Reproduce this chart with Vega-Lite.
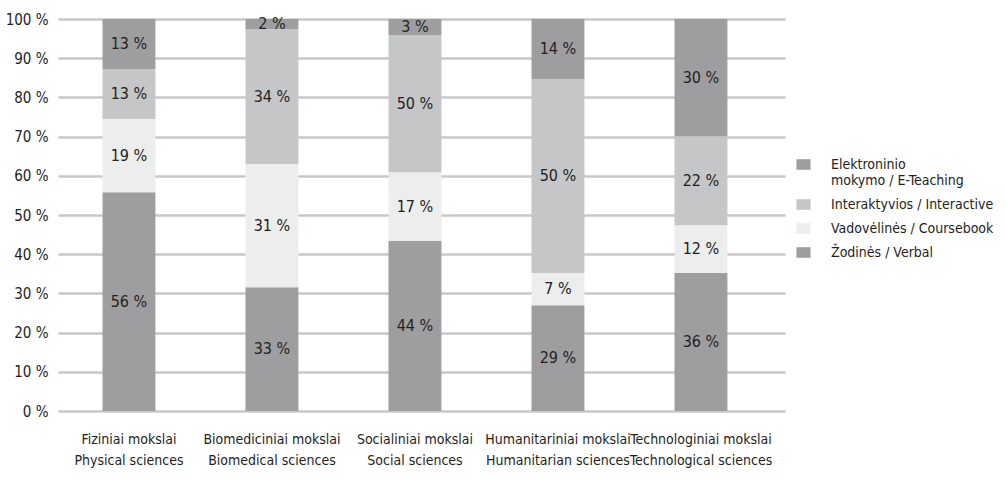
{
  "$schema": "https://vega.github.io/schema/vega-lite/v6.json",
  "width": 727,
  "height": 392,
  "autosize": {"type": "none"},
  "padding": {"left": 58, "top": 19, "right": 222, "bottom": 69},
  "background": "white",
  "config": {
    "font": "DejaVu Sans Condensed",
    "view": {"stroke": null},
    "text": {"font": "DejaVu Sans Condensed"},
    "axisY": {
      "title": null,
      "values": [0, 10, 20, 30, 40, 50, 60, 70, 80, 90, 100],
      "labelExpr": "datum.value + ' %'",
      "labelFontSize": 15,
      "labelColor": "#231f20",
      "labelPadding": 10,
      "labelOverlap": false,
      "ticks": false,
      "domain": false,
      "grid": true,
      "gridColor": "#c8c8c8",
      "gridWidth": 2.5,
      "zindex": 0
    }
  },
  "data": {
    "values": [
      {"field": "Fiziniai mokslai\nPhysical sciences", "series": "Žodinės / Verbal", "value": 55.8, "label": 56},
      {"field": "Fiziniai mokslai\nPhysical sciences", "series": "Vadovėlinės / Coursebook", "value": 18.7, "label": 19},
      {"field": "Fiziniai mokslai\nPhysical sciences", "series": "Interaktyvios / Interactive", "value": 12.7, "label": 13},
      {"field": "Fiziniai mokslai\nPhysical sciences", "series": "Elektroninio mokymo / E-Teaching", "value": 12.8, "label": 13},
      {"field": "Biomediciniai mokslai\nBiomedical sciences", "series": "Žodinės / Verbal", "value": 31.6, "label": 33},
      {"field": "Biomediciniai mokslai\nBiomedical sciences", "series": "Vadovėlinės / Coursebook", "value": 31.4, "label": 31},
      {"field": "Biomediciniai mokslai\nBiomedical sciences", "series": "Interaktyvios / Interactive", "value": 34.4, "label": 34},
      {"field": "Biomediciniai mokslai\nBiomedical sciences", "series": "Elektroninio mokymo / E-Teaching", "value": 2.6, "label": 2},
      {"field": "Socialiniai mokslai\nSocial sciences", "series": "Žodinės / Verbal", "value": 43.4, "label": 44},
      {"field": "Socialiniai mokslai\nSocial sciences", "series": "Vadovėlinės / Coursebook", "value": 17.5, "label": 17},
      {"field": "Socialiniai mokslai\nSocial sciences", "series": "Interaktyvios / Interactive", "value": 35.0, "label": 50},
      {"field": "Socialiniai mokslai\nSocial sciences", "series": "Elektroninio mokymo / E-Teaching", "value": 4.1, "label": 3},
      {"field": "Humanitariniai mokslai\nHumanitarian sciences", "series": "Žodinės / Verbal", "value": 27.0, "label": 29},
      {"field": "Humanitariniai mokslai\nHumanitarian sciences", "series": "Vadovėlinės / Coursebook", "value": 8.2, "label": 7},
      {"field": "Humanitariniai mokslai\nHumanitarian sciences", "series": "Interaktyvios / Interactive", "value": 49.4, "label": 50},
      {"field": "Humanitariniai mokslai\nHumanitarian sciences", "series": "Elektroninio mokymo / E-Teaching", "value": 15.4, "label": 14},
      {"field": "Technologiniai mokslai\nTechnological sciences", "series": "Žodinės / Verbal", "value": 35.2, "label": 36},
      {"field": "Technologiniai mokslai\nTechnological sciences", "series": "Vadovėlinės / Coursebook", "value": 12.2, "label": 12},
      {"field": "Technologiniai mokslai\nTechnological sciences", "series": "Interaktyvios / Interactive", "value": 22.7, "label": 22},
      {"field": "Technologiniai mokslai\nTechnological sciences", "series": "Elektroninio mokymo / E-Teaching", "value": 29.9, "label": 30}
    ]
  },
  "transform": [
    {"stack": "value", "groupby": ["field"], "sort": [{"field": "series", "order": "descending"}], "as": ["v0", "v1"]},
    {"calculate": "(datum.v0 + datum.v1) / 2", "as": "vmid"},
    {"calculate": "datum.label + ' %'", "as": "txt"}
  ],
  "encoding": {
    "x": {
      "field": "field",
      "type": "nominal",
      "sort": null,
      "scale": {"paddingInner": 0.63, "paddingOuter": 0.357, "align": 0.436},
      "axis": {
        "title": null,
        "labelAngle": 0,
        "labelExpr": "split(datum.label, '\\n')",
        "labelFontSize": 14,
        "labelColor": "#231f20",
        "labelPadding": 21,
        "labelLineHeight": 21,
        "labelLimit": 0,
        "labelBaseline": "top",
        "labelOverlap": false,
        "ticks": false,
        "domain": false
      }
    }
  },
  "layer": [
    {
      "mark": {"type": "bar"},
      "encoding": {
        "y": {
          "field": "v1",
          "type": "quantitative",
          "scale": {"domain": [0, 100], "nice": false}
        },
        "y2": {"field": "v0"},
        "color": {
          "field": "series",
          "type": "nominal",
          "scale": {
            "domain": ["Elektroninio mokymo / E-Teaching", "Interaktyvios / Interactive", "Vadovėlinės / Coursebook", "Žodinės / Verbal"],
            "range": ["#9e9ea0", "#c5c6c8", "#eceded", "#9e9ea0"]
          },
          "legend": {
            "title": null,
            "orient": "none",
            "legendX": 738,
            "legendY": 138,
            "labelFontSize": 14,
            "labelColor": "#231f20",
            "labelLimit": 300,
            "labelOffset": 20,
            "labelLineHeight": 21,
            "labelExpr": "datum.label == 'Elektroninio mokymo / E-Teaching' ? ['Elektroninio', 'mokymo / E-Teaching'] : datum.label",
            "symbolType": "M-1,-0.75H1V0.75H-1Z",
            "symbolSize": 200,
            "symbolStrokeWidth": 0,
            "rowPadding": 9
          }
        }
      }
    },
    {
      "mark": {"type": "text", "fontSize": 16, "color": "#231f20", "baseline": "middle"},
      "encoding": {
        "y": {"field": "vmid", "type": "quantitative"},
        "text": {"field": "txt"}
      }
    }
  ]
}
